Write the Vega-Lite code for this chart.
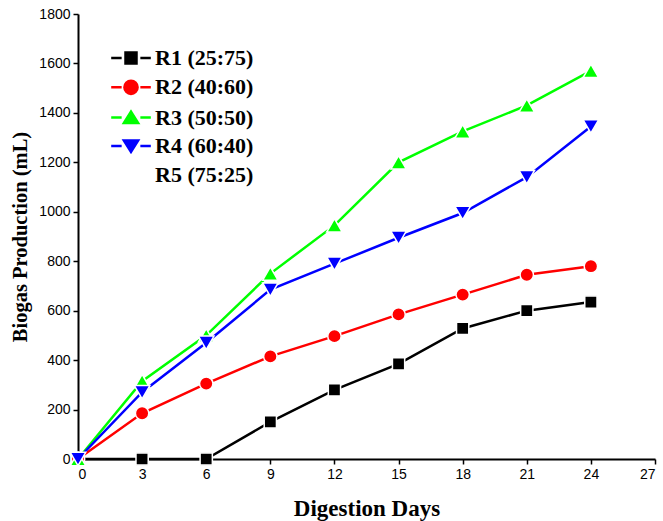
{
  "$schema": "https://vega.github.io/schema/vega-lite/v6.json",
  "width": 577,
  "height": 445,
  "autosize": "none",
  "padding": {"left": 78, "top": 14, "right": 8, "bottom": 62},
  "background": "white",
  "config": {
    "view": {"stroke": null},
    "axis": {
      "grid": false,
      "domainColor": "black",
      "domainWidth": 2,
      "tickColor": "black",
      "tickWidth": 1.5,
      "tickSize": 5,
      "labelFont": "Liberation Sans",
      "labelFontSize": 14,
      "labelColor": "black",
      "labelPadding": 3,
      "titleFont": "Liberation Serif",
      "titleFontWeight": "bold",
      "titleColor": "black"
    }
  },
  "data": {
    "values": [
      {"day": 0, "value": 0, "series": "R1 (25:75)"},
      {"day": 3, "value": 0, "series": "R1 (25:75)"},
      {"day": 6, "value": 0, "series": "R1 (25:75)"},
      {"day": 9, "value": 150, "series": "R1 (25:75)"},
      {"day": 12, "value": 280, "series": "R1 (25:75)"},
      {"day": 15, "value": 385, "series": "R1 (25:75)"},
      {"day": 18, "value": 528, "series": "R1 (25:75)"},
      {"day": 21, "value": 600, "series": "R1 (25:75)"},
      {"day": 24, "value": 635, "series": "R1 (25:75)"},
      {"day": 0, "value": 0, "series": "R2 (40:60)"},
      {"day": 3, "value": 185, "series": "R2 (40:60)"},
      {"day": 6, "value": 305, "series": "R2 (40:60)"},
      {"day": 9, "value": 415, "series": "R2 (40:60)"},
      {"day": 12, "value": 497, "series": "R2 (40:60)"},
      {"day": 15, "value": 585, "series": "R2 (40:60)"},
      {"day": 18, "value": 665, "series": "R2 (40:60)"},
      {"day": 21, "value": 745, "series": "R2 (40:60)"},
      {"day": 24, "value": 780, "series": "R2 (40:60)"},
      {"day": 0, "value": 0, "series": "R3 (50:50)"},
      {"day": 3, "value": 315, "series": "R3 (50:50)"},
      {"day": 6, "value": 500, "series": "R3 (50:50)"},
      {"day": 9, "value": 750, "series": "R3 (50:50)"},
      {"day": 12, "value": 945, "series": "R3 (50:50)"},
      {"day": 15, "value": 1200, "series": "R3 (50:50)"},
      {"day": 18, "value": 1325, "series": "R3 (50:50)"},
      {"day": 21, "value": 1430, "series": "R3 (50:50)"},
      {"day": 24, "value": 1570, "series": "R3 (50:50)"},
      {"day": 0, "value": 0, "series": "R4 (60:40)"},
      {"day": 3, "value": 270, "series": "R4 (60:40)"},
      {"day": 6, "value": 470, "series": "R4 (60:40)"},
      {"day": 9, "value": 685, "series": "R4 (60:40)"},
      {"day": 12, "value": 790, "series": "R4 (60:40)"},
      {"day": 15, "value": 895, "series": "R4 (60:40)"},
      {"day": 18, "value": 995, "series": "R4 (60:40)"},
      {"day": 21, "value": 1140, "series": "R4 (60:40)"},
      {"day": 24, "value": 1345, "series": "R4 (60:40)"}
    ]
  },
  "encoding": {
    "x": {
      "field": "day",
      "type": "quantitative",
      "title": "Digestion Days",
      "scale": {"domain": [0, 27], "nice": false},
      "axis": {"values": [0, 3, 6, 9, 12, 15, 18, 21, 24, 27], "titlePadding": 16, "titleFontSize": 23}
    },
    "y": {
      "field": "value",
      "type": "quantitative",
      "title": "Biogas Production (mL)",
      "scale": {"domain": [0, 1800], "nice": false},
      "axis": {"values": [0, 200, 400, 600, 800, 1000, 1200, 1400, 1600, 1800], "format": "d", "titlePadding": 8, "titleFontSize": 20.5}
    },
    "color": {
      "field": "series",
      "type": "nominal",
      "scale": {
        "domain": ["R1 (25:75)", "R2 (40:60)", "R3 (50:50)", "R4 (60:40)", "R5 (75:25)"],
        "range": ["#000000", "#ff0000", "#00ff00", "#0000ff", "#ffffff"]
      },
      "legend": {
        "title": null,
        "orient": "none",
        "legendX": 42,
        "legendY": 33,
        "padding": 0,
        "symbolSize": 121,
        "symbolStrokeWidth": 2.5,
        "labelFont": "Liberation Serif",
        "labelFontWeight": "bold",
        "labelFontSize": 22,
        "labelColor": "black",
        "labelOffset": 13,
        "rowPadding": 6.3,
        "encode": {
          "symbols": {
            "update": {
              "shape": {"signal": "datum.value === 'R1 (25:75)' ? 'M-3.6,0H-1.7M1.7,0H3.6M-1,-1H1V1H-1Z' : datum.value === 'R2 (40:60)' ? 'M-3.6,0H-1.7M1.7,0H3.6M1.2,0A1.2,1.2 0 1,1 -1.2,0A1.2,1.2 0 1,1 1.2,0Z' : datum.value === 'R3 (50:50)' ? 'M-3.6,0H-1.7M1.7,0H3.6M0,-1.1L1.3,1H-1.3Z' : datum.value === 'R4 (60:40)' ? 'M-3.6,0H-1.7M1.7,0H3.6M0,1.1L1.3,-1H-1.3Z' : 'M0,0'"},
              "stroke": {"signal": "scale('color', datum.value)"},
              "fill": {"signal": "scale('color', datum.value)"},
              "strokeWidth": {"value": 2.5},
              "opacity": {"value": 1}
            }
          }
        }
      }
    }
  },
  "layer": [
    {
      "mark": {"type": "line", "strokeWidth": 2.5},
      "encoding": {}
    },
    {
      "transform": [{"filter": "datum.series === 'R1 (25:75)'"}],
      "mark": {"type": "point", "shape": "square", "size": 150, "filled": true, "opacity": 1, "stroke": "white", "strokeWidth": 1.5},
      "encoding": {}
    },
    {
      "transform": [{"filter": "datum.series === 'R2 (40:60)'"}],
      "mark": {"type": "point", "shape": "circle", "size": 180, "filled": true, "opacity": 1, "stroke": "white", "strokeWidth": 1.5},
      "encoding": {}
    },
    {
      "transform": [{"filter": "datum.series === 'R3 (50:50)'"}],
      "mark": {"type": "point", "shape": "triangle-up", "size": 240, "filled": true, "opacity": 1, "stroke": "white", "strokeWidth": 1.5},
      "encoding": {}
    },
    {
      "transform": [{"filter": "datum.series === 'R4 (60:40)'"}],
      "mark": {"type": "point", "shape": "triangle-down", "size": 240, "filled": true, "opacity": 1, "stroke": "white", "strokeWidth": 1.5},
      "encoding": {}
    }
  ]
}
